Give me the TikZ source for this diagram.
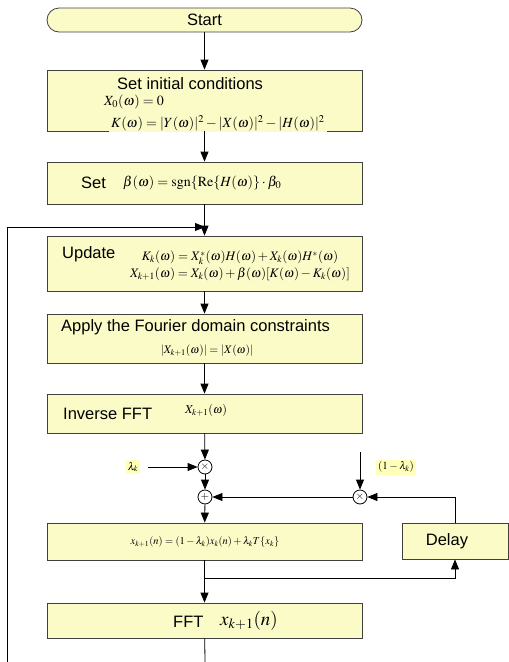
\documentclass[tikz,border=0pt]{standalone}
\usepackage{mathptmx}
\usepackage[no-math]{fontspec}
\setmainfont{Liberation Sans}
\usetikzlibrary{arrows.meta}

\definecolor{boxfill}{RGB}{251,251,200}
\definecolor{tagfill}{RGB}{255,255,185}

\tikzset{
  stepbox/.style={draw=black!75, fill=boxfill, line width=0.8pt,
    minimum width=315pt, inner sep=0pt, font=\fontsize{16.5}{19}\selectfont},
  flow/.style={-{Triangle[length=10pt,width=8pt]}, line width=0.8pt},
  junc/.style={draw, circle, fill=white, line width=0.8pt,
    minimum size=14pt, inner sep=0pt, font=\fontsize{11}{11}\selectfont},
  lbl/.style={anchor=west, inner sep=0pt, font=\fontsize{16.5}{17}\selectfont},
  eq/.style={inner sep=0pt, font=\fontsize{14}{15}\selectfont},
  tag/.style={fill=tagfill, inner sep=2pt, font=\fontsize{11}{12}\selectfont},
}

\begin{document}
\begin{tikzpicture}[x=1pt,y=-1pt]
  \useasboundingbox (0,0) rectangle (509,662);

  % main column
  \node[stepbox, minimum height=24pt, rounded corners=12pt] (start) at (204.5,20) {Start};
  \node[stepbox, minimum height=61pt] (init) at (204.5,100.5) {};
  \node[stepbox, minimum height=42pt] (setb) at (204.5,183) {};
  \node[stepbox, minimum height=55pt] (update) at (204.5,263.5) {};
  \node[stepbox, minimum height=49pt] (apply) at (204.5,338.5) {};
  \node[stepbox, minimum height=39pt] (ifft) at (204.5,413.5) {};
  \node[stepbox, minimum height=37pt] (xupd) at (204.5,541.5) {};
  \node[stepbox, minimum height=35pt] (fft) at (204.5,620.5) {};
  \node[stepbox, minimum width=106pt, minimum height=36pt] (delay) at (455,541) {};

  % texts
  \node[lbl] (initT) at (117,84) {Set initial conditions};
  \node[eq, anchor=west] (initA) at (104,102) {$X_0(\omega) = 0$};
  \node[eq, anchor=west, fill=boxfill, inner xsep=2pt, inner ysep=1pt] (initB) at (109,123)
    {$K(\omega) =| Y(\omega)|^2 -| X(\omega)|^2 -| H(\omega)|^2$};
  \node[lbl] (setT) at (81,183) {Set};
  \node[eq, anchor=west] (setA) at (123,183)
    {$\beta(\omega) = \mathrm{sgn}\{\mathrm{Re}\{H(\omega)\}\cdot\beta_0$};
  \node[lbl] (updT) at (62,254) {Update};
  \node[eq, font=\fontsize{13}{14}\selectfont] (updA) at (240,258)
    {$K_k(\omega) = X_k^*(\omega)H(\omega) + X_k(\omega)H^*(\omega)$};
  \node[eq, font=\fontsize{13}{14}\selectfont] (updB) at (240,274)
    {$X_{k+1}(\omega) = X_k(\omega) + \beta(\omega)[K(\omega) - K_k(\omega)]$};
  \node[lbl] (applyT) at (61,327) {Apply the Fourier domain constraints};
  \node[eq, font=\fontsize{11.5}{13}\selectfont] (applyA) at (207,351)
    {$| X_{k+1}(\omega)|=| X(\omega)|$};
  \node[lbl] (ifftT) at (63,414) {Inverse FFT};
  \node[eq, anchor=west, font=\fontsize{12}{13}\selectfont] (ifftA) at (185,410)
    {$X_{k+1}(\omega)$};
  \node[eq, font=\fontsize{10.5}{12}\selectfont] (xupdA) at (205,542)
    {$x_{k+1}(n) = (1-\lambda_k)x_k(n) + \lambda_k T\{x_k\}$};
  \node[lbl, anchor=center] (delayT) at (447,541) {Delay};
  \node[lbl] (fftT) at (173,622) {FFT};
  \node[eq, anchor=west, font=\fontsize{19}{20}\selectfont] (fftA) at (220,621)
    {$x_{k+1}(n)$};

  % combiners
  \node[junc] (mulA) at (205,467) {$\times$};
  \node[junc] (sumB) at (205,497) {$+$};
  \node[junc] (mulC) at (360,497) {$\times$};
  \node[tag] (lamA) at (133,467) {$\lambda_k$};
  \node[tag] (lamC) at (396,467) {$(1-\lambda_k)$};

  \coordinate (join) at (205,227);
  \coordinate (loopin) at (7,662);
  \coordinate (gaintop) at (360,452);
  \coordinate (split) at (205,578);
  \coordinate (fftout) at (205,662);

  % connectors
  \draw[flow] (start) -- (init);
  \draw[flow] (init) -- (setb);
  \draw[flow] (setb) -- (update);
  \draw[flow] (loopin) |- (join);
  \draw[flow] (update) -- (apply);
  \draw[flow] (apply) -- (ifft);
  \draw[flow] (ifft) -- (mulA);
  \draw[flow, shorten <=8pt] (lamA) -- (mulA);
  \draw[flow] (mulA) -- (sumB);
  \draw[flow] (gaintop) -- (mulC);
  \draw[flow] (delay.north) |- (mulC);
  \draw[flow] (mulC) -- (sumB);
  \draw[flow] (sumB) -- (xupd);
  \draw[flow] (xupd) -- (fft);
  \draw[flow] (split) -| (delay.south);
  \draw[line width=0.8pt] (fft) -- (fftout);
\end{tikzpicture}
\end{document}
